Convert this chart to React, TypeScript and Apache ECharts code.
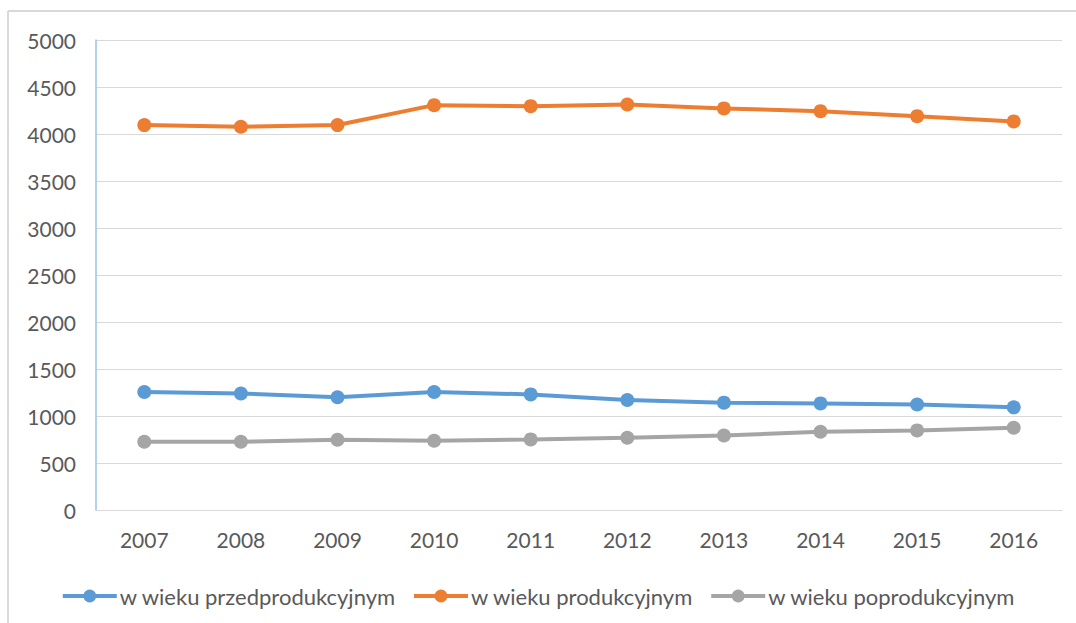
import React, { useEffect, useRef } from "react";
import * as echarts from "echarts";

const years = ["2007", "2008", "2009", "2010", "2011", "2012", "2013", "2014", "2015", "2016"];
const przed = [1255, 1240, 1200, 1255, 1230, 1170, 1142, 1134, 1122, 1092];
const prod = [4095, 4077, 4095, 4307, 4296, 4314, 4272, 4243, 4190, 4134];
const poprod = [726, 726, 748, 737, 751, 769, 793, 833, 847, 875];
const seriesNames = ["w wieku przedprodukcyjnym", "w wieku produkcyjnym", "w wieku poprodukcyjnym"];
const colors = ["#5B9BD5", "#ED7D31", "#A5A5A5"];

export default function App() {
  const ref = useRef<HTMLDivElement>(null);
  useEffect(() => {
    if (!ref.current) return;
    const chart = echarts.init(ref.current, null, { renderer: "svg" });
    const font = "Lato, 'Open Sans', sans-serif";
    const mk = (name: string, data: number[], color: string) => ({
      name,
      type: "line",
      data,
      symbol: "circle",
      symbolSize: 14,
      lineStyle: { color, width: 4 },
      itemStyle: { color },
      z: 3,
    });
    chart.setOption({
      animation: false,
      backgroundColor: "#ffffff",
      textStyle: { fontFamily: font },
      color: colors,
      grid: { left: 96, right: 14, top: 40, bottom: 113, containLabel: false },
      graphic: [
        { type: "line", shape: { x1: 8, y1: 11, x2: 1076, y2: 11 }, style: { stroke: "#d9d9d9", lineWidth: 2 } },
        { type: "line", shape: { x1: 8, y1: 11, x2: 8, y2: 623 }, style: { stroke: "#d9d9d9", lineWidth: 2 } },
      ],
      xAxis: {
        type: "category",
        data: years,
        boundaryGap: true,
        axisLine: { lineStyle: { color: "#d9d9d9", width: 1 } },
        axisTick: { show: false },
        axisLabel: { color: "#595959", fontSize: 21, fontFamily: font, margin: 19 },
      },
      yAxis: {
        type: "value",
        min: 0,
        max: 5000,
        interval: 500,
        axisLine: { show: true, lineStyle: { color: "#9DC3E6", width: 1.5 } },
        axisTick: { show: false },
        axisLabel: {
          color: "#595959",
          fontSize: 21,
          fontFamily: font,
          margin: 20,
          formatter: (v: number) => String(v),
        },
        splitLine: { lineStyle: { color: "#d9d9d9", width: 1 } },
      },
      legend: {
        bottom: 11,
        left: "center",
        itemWidth: 54,
        itemHeight: 16,
        itemGap: 16,
        lineStyle: { width: 4 },
        textStyle: { color: "#595959", fontSize: 22, fontFamily: font, padding: [0, 0, 0, -2] },
        data: seriesNames,
      },
      series: [
        mk(seriesNames[0], przed, colors[0]),
        mk(seriesNames[1], prod, colors[1]),
        mk(seriesNames[2], poprod, colors[2]),
      ],
    });
    return () => chart.dispose();
  }, []);
  return (
    <div
      ref={ref}
      style={{ position: "absolute", left: 0, top: 0, width: 1076, height: 623 }}
    />
  );
}
